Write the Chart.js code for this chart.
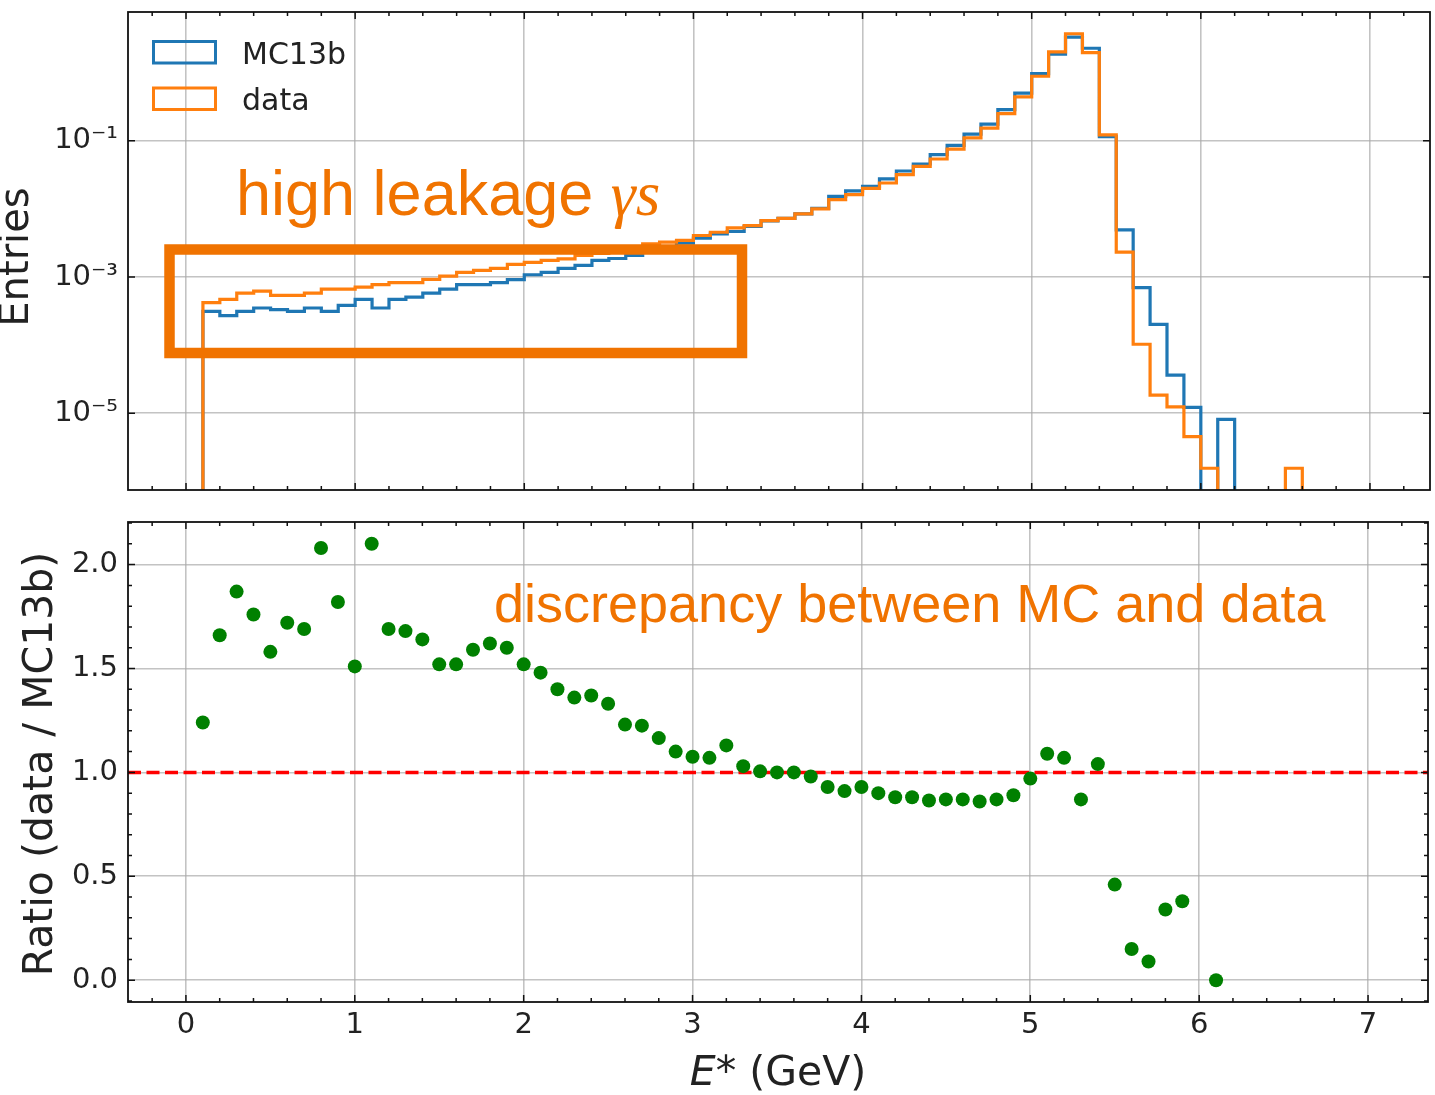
<!DOCTYPE html>
<html>
<head>
<meta charset="utf-8">
<title>E* spectrum MC13b vs data</title>
<script src="https://cdn.jsdelivr.net/npm/chart.js@4.4.1/dist/chart.umd.min.js"></script>
<style>
  html, body { margin: 0; padding: 0; background: #fff; }
  #wrap { position: relative; width: 1435px; height: 1095px; overflow: hidden; }
  #topChart { position: absolute; left: 0; top: 0; }
  #ratioChart { position: absolute; left: 0; top: 505px; }
</style>
</head>
<body>
<div id="wrap">
  <canvas id="topChart" width="1435" height="505"></canvas>
  <canvas id="ratioChart" width="1435" height="590"></canvas>
</div>
<script>
// histogram bin edges (GeV)
const binEdges = [0.1,0.2,0.3,0.4,0.5,0.6,0.7,0.8,0.9,1.0,1.1,1.2,1.3,1.4,1.5,1.6,1.7,1.8,1.9,2.0,
  2.1,2.2,2.3,2.4,2.5,2.6,2.7,2.8,2.9,3.0,3.1,3.2,3.3,3.4,3.5,3.6,3.7,3.8,3.9,4.0,
  4.1,4.2,4.3,4.4,4.5,4.6,4.7,4.8,4.9,5.0,5.1,5.2,5.3,5.4,5.5,5.6,5.7,5.8,5.9,6.0,
  6.1,6.2,6.3,6.4,6.5,6.6];

// MC13b entries per bin
const mcEntries = [
  3.13e-4, 2.71e-4, 3.13e-4, 3.51e-4, 3.32e-4, 3.13e-4, 3.51e-4, 3.13e-4, 3.84e-4, 4.70e-4,
  3.51e-4, 4.70e-4, 5.08e-4, 5.81e-4, 6.65e-4, 7.71e-4, 7.71e-4, 8.26e-4, 9.13e-4, 1.08e-3,
  1.17e-3, 1.34e-3, 1.48e-3, 1.75e-3, 1.87e-3, 2.07e-3, 2.45e-3, 2.80e-3, 3.15e-3, 3.73e-3,
  4.28e-3, 4.66e-3, 5.52e-3, 6.67e-3, 7.28e-3, 8.45e-3, 1.02e-2, 1.53e-2, 1.84e-2, 2.14e-2,
  2.75e-2, 3.60e-2, 4.56e-2, 6.24e-2, 8.53e-2, 0.125, 0.176, 0.287, 0.499, 0.966,
  1.86, 3.33, 2.28, 0.115, 4.93e-3, 6.97e-4, 2.02e-4, 3.62e-5, 1.22e-5, 0,
  8.15e-6, 0, 0, 0, 0
];

// data entries per bin
const dataEntries = [
  4.21e-4, 4.70e-4, 5.81e-4, 6.22e-4, 5.38e-4, 5.38e-4, 5.81e-4, 6.65e-4, 6.65e-4, 7.11e-4,
  7.71e-4, 8.26e-4, 8.26e-4, 9.23e-4, 1.03e-3, 1.17e-3, 1.25e-3, 1.34e-3, 1.53e-3, 1.64e-3,
  1.75e-3, 1.85e-3, 2.07e-3, 2.22e-3, 2.37e-3, 2.62e-3, 3.08e-3, 3.25e-3, 3.44e-3, 4.07e-3,
  4.54e-3, 5.27e-3, 5.69e-3, 6.74e-3, 7.28e-3, 8.45e-3, 1.00e-2, 1.37e-2, 1.62e-2, 2.00e-2,
  2.40e-2, 3.18e-2, 4.21e-2, 5.40e-2, 7.55e-2, 0.110, 0.153, 0.251, 0.441, 0.885,
  2.01, 3.72, 1.96, 0.122, 2.32e-3, 1.03e-4, 1.85e-5, 1.24e-5, 4.53e-6, 1.56e-6,
  0, 0, 0, 0, 1.56e-6
];

// ratio data / MC13b
const ratioX = [0.1,0.2,0.3,0.4,0.5,0.6,0.7,0.8,0.9,1.0,1.1,1.2,1.3,1.4,1.5,1.6,1.7,1.8,1.9,2.0,
  2.1,2.2,2.3,2.4,2.5,2.6,2.7,2.8,2.9,3.0,3.1,3.2,3.3,3.4,3.5,3.6,3.7,3.8,3.9,4.0,
  4.1,4.2,4.3,4.4,4.5,4.6,4.7,4.8,4.9,5.0,5.1,5.2,5.3,5.4,5.5,5.6,5.7,5.8,5.9,6.1];
const ratioValues = [1.24,1.66,1.87,1.76,1.58,1.72,1.69,2.08,1.82,1.51,
  2.10,1.69,1.68,1.64,1.52,1.52,1.59,1.62,1.60,1.52,
  1.48,1.40,1.36,1.37,1.33,1.23,1.225,1.165,1.10,1.075,
  1.07,1.13,1.03,1.005,1.0,1.0,0.98,0.93,0.91,0.93,
  0.90,0.88,0.88,0.865,0.87,0.87,0.86,0.87,0.89,0.97,
  1.09,1.07,0.87,1.04,0.46,0.15,0.09,0.34,0.38,0.0];
const refLevel = 1.0;

const xTicks = [0,1,2,3,4,5,6,7];
const topYTicks = [1e-5, 1e-3, 1e-1];
const topYTickLabels = ['10⁻⁵', '10⁻³', '10⁻¹'];
const ratioYTicks = [0, 0.5, 1.0, 1.5, 2.0];
const ratioYTickLabels = ['0.0', '0.5', '1.0', '1.5', '2.0'];

// axis limits
const X_MIN = -0.343, X_MAX = 7.355;
const TOP_Y_MIN = 7.48e-7, TOP_Y_MAX = 7.76;
const RATIO_Y_MIN = -0.105, RATIO_Y_MAX = 2.205;
const FLOOR = 1e-9; // empty bins go below the axis

const BLUE = '#1f77b4', ORANGE = '#ff7f0e', NOTE = '#f07300', TEXT = '#222';
const FONT = '"DejaVu Sans", sans-serif';

// step outline like matplotlib histtype='step'
function stepPoints(values) {
  const pts = [{ x: binEdges[0], y: FLOOR }];
  values.forEach(function (v, i) {
    pts.push({ x: binEdges[i], y: v > 0 ? v : FLOOR });
  });
  pts.push({ x: binEdges[binEdges.length - 1], y: FLOOR });
  return pts;
}

function minorTicks(from, to, step, every) {
  let out = [];
  for (let k = Math.round(from / step); k * step <= to + 1e-9; k++) {
    if (k % every !== 0) out.push(k * step);
  }
  return out;
}

// frame + inward ticks on all four sides
const frameTicks = {
  id: 'frameTicks',
  afterDatasetsDraw(chart, args, opts) {
    const ctx = chart.ctx, a = chart.chartArea;
    const x = chart.scales.x, y = chart.scales.y;
    ctx.save();
    ctx.strokeStyle = '#111';
    ctx.lineWidth = 1.5;
    ctx.beginPath();
    function xt(vals, len) {
      vals.forEach(function (v) {
        const p = x.getPixelForValue(v);
        if (p < a.left || p > a.right) return;
        ctx.moveTo(p, a.bottom); ctx.lineTo(p, a.bottom - len);
        ctx.moveTo(p, a.top); ctx.lineTo(p, a.top + len);
      });
    }
    function yt(vals, len) {
      vals.forEach(function (v) {
        const p = y.getPixelForValue(v);
        if (p < a.top || p > a.bottom) return;
        ctx.moveTo(a.left, p); ctx.lineTo(a.left + len, p);
        ctx.moveTo(a.right, p); ctx.lineTo(a.right - len, p);
      });
    }
    xt(opts.xMajor, 7); xt(opts.xMinor, 4);
    yt(opts.yMajor, 7); yt(opts.yMinor || [], 4);
    ctx.stroke();
    ctx.lineWidth = 1.8;
    ctx.strokeRect(a.left, a.top, a.right - a.left, a.bottom - a.top);
    ctx.restore();
  }
};

const xMinor = minorTicks(X_MIN, X_MAX, 0.2, 5);
const ratioYMinor = minorTicks(RATIO_Y_MIN, RATIO_Y_MAX, 0.1, 5);

const gridStyle = { color: 'rgba(170,170,170,0.7)', lineWidth: 1.6, drawTicks: false };

function fixY(scale) {
  scale.width = 128;
  scale.paddingTop = 0;
  scale.paddingBottom = 0;
}

// ---------- top panel ----------
const topNotes = {
  id: 'topNotes',
  afterDraw(chart) {
    const ctx = chart.ctx;
    ctx.save();
    // legend
    const items = [chart.data.datasets[1], chart.data.datasets[0]];
    ctx.lineWidth = 3;
    ctx.font = '30px ' + FONT;
    ctx.fillStyle = TEXT;
    ctx.textBaseline = 'alphabetic';
    items.forEach(function (ds, i) {
      const top = 41.5 + i * 46.5;
      ctx.strokeStyle = ds.borderColor;
      ctx.strokeRect(153.5, top, 62, 21.5);
      ctx.fillText(ds.label, 242, 63.5 + i * 46.5);
    });
    // annotation box and text
    ctx.strokeStyle = NOTE;
    ctx.lineWidth = 10.5;
    ctx.strokeRect(169.5, 249.5, 572.5, 103.5);
    ctx.fillStyle = NOTE;
    ctx.font = '63px "Liberation Sans", Arial, sans-serif';
    const t1 = 'high leakage ';
    ctx.fillText(t1, 236, 215);
    const w = ctx.measureText(t1).width;
    ctx.font = 'italic 63px "Liberation Serif", "Times New Roman", serif';
    ctx.fillText('γs', 236 + w, 215);
    // y title
    ctx.fillStyle = TEXT;
    ctx.font = '40px ' + FONT;
    ctx.translate(18, 257);
    ctx.rotate(-Math.PI / 2);
    ctx.textAlign = 'center';
    ctx.textBaseline = 'middle';
    ctx.fillText('Entries', 0, 0);
    ctx.restore();
  }
};

new Chart(document.getElementById('topChart'), {
  type: 'line',
  data: {
    datasets: [
      {
        label: 'data',
        data: stepPoints(dataEntries),
        borderColor: ORANGE,
        backgroundColor: 'rgba(0,0,0,0)',
        borderWidth: 3.2,
        stepped: true,
        pointRadius: 0,
        fill: false,
        clip: 0
      },
      {
        label: 'MC13b',
        data: stepPoints(mcEntries),
        borderColor: BLUE,
        backgroundColor: 'rgba(0,0,0,0)',
        borderWidth: 3.2,
        stepped: true,
        pointRadius: 0,
        fill: false,
        clip: 0
      }
    ]
  },
  options: {
    responsive: false,
    animation: false,
    events: [],
    layout: { padding: { left: 0, right: 5, top: 12, bottom: 15 } },
    plugins: {
      legend: { display: false },
      tooltip: { enabled: false },
      frameTicks: { xMajor: xTicks, xMinor: xMinor, yMajor: topYTicks, yMinor: [] }
    },
    scales: {
      x: {
        type: 'linear',
        min: X_MIN,
        max: X_MAX,
        grid: gridStyle,
        border: { display: false },
        ticks: { display: false },
        afterBuildTicks: function (scale) { scale.ticks = xTicks.map(v => ({ value: v })); },
        afterFit: function (scale) { scale.height = 0; scale.paddingLeft = 0; scale.paddingRight = 0; }
      },
      y: {
        type: 'logarithmic',
        min: TOP_Y_MIN,
        max: TOP_Y_MAX,
        grid: gridStyle,
        border: { display: false },
        ticks: {
          font: { family: FONT, size: 29 },
          color: TEXT,
          padding: 10,
          callback: function (value, index) { return topYTickLabels[index]; }
        },
        afterBuildTicks: function (scale) { scale.ticks = topYTicks.map(v => ({ value: v })); },
        afterFit: fixY
      }
    }
  },
  plugins: [frameTicks, topNotes]
});

// ---------- ratio panel ----------
const ratioNotes = {
  id: 'ratioNotes',
  afterDraw(chart) {
    const ctx = chart.ctx;
    ctx.save();
    ctx.fillStyle = NOTE;
    ctx.font = '54px "Liberation Sans", Arial, sans-serif';
    ctx.fillText('discrepancy between MC and data', 494, 117);
    // x title: italic E
    ctx.fillStyle = TEXT;
    const a = chart.chartArea;
    const cx = (a.left + a.right) / 2;
    ctx.font = 'italic 41px ' + FONT;
    const wE = ctx.measureText('E').width;
    ctx.font = '41px ' + FONT;
    const rest = '* (GeV)';
    const wR = ctx.measureText(rest).width;
    const x0 = cx - (wE + wR) / 2;
    ctx.font = 'italic 41px ' + FONT;
    ctx.fillText('E', x0, 580);
    ctx.font = '41px ' + FONT;
    ctx.fillText(rest, x0 + wE, 580);
    // y title
    ctx.translate(41, (a.top + a.bottom) / 2 + 2);
    ctx.rotate(-Math.PI / 2);
    ctx.textAlign = 'center';
    ctx.textBaseline = 'middle';
    ctx.fillText('Ratio (data / MC13b)', 0, 0);
    ctx.restore();
  }
};

new Chart(document.getElementById('ratioChart'), {
  type: 'scatter',
  data: {
    datasets: [
      {
        label: 'ratio',
        data: ratioX.map((x, i) => ({ x: x, y: ratioValues[i] })),
        backgroundColor: 'green',
        borderColor: 'green',
        borderWidth: 0,
        pointRadius: 7
      },
      {
        label: 'unity',
        data: [{ x: X_MIN, y: refLevel }, { x: X_MAX, y: refLevel }],
        showLine: true,
        borderColor: 'red',
        borderWidth: 3.5,
        borderDash: [13, 5.5],
        pointRadius: 0,
        fill: false
      }
    ]
  },
  options: {
    responsive: false,
    animation: false,
    events: [],
    layout: { padding: { left: 0, right: 5, top: 17, bottom: 0 } },
    plugins: {
      legend: { display: false },
      tooltip: { enabled: false },
      frameTicks: { xMajor: xTicks, xMinor: xMinor, yMajor: ratioYTicks, yMinor: ratioYMinor }
    },
    scales: {
      x: {
        type: 'linear',
        min: X_MIN,
        max: X_MAX,
        grid: gridStyle,
        border: { display: false },
        ticks: {
          font: { family: FONT, size: 29 },
          color: TEXT,
          padding: 6,
          callback: function (value) { return String(value); }
        },
        afterBuildTicks: function (scale) { scale.ticks = xTicks.map(v => ({ value: v })); },
        afterFit: function (scale) { scale.height = 93; scale.paddingLeft = 0; scale.paddingRight = 0; }
      },
      y: {
        type: 'linear',
        min: RATIO_Y_MIN,
        max: RATIO_Y_MAX,
        grid: gridStyle,
        border: { display: false },
        ticks: {
          font: { family: FONT, size: 29 },
          color: TEXT,
          padding: 10,
          callback: function (value, index) { return ratioYTickLabels[index]; }
        },
        afterBuildTicks: function (scale) { scale.ticks = ratioYTicks.map(v => ({ value: v })); },
        afterFit: fixY
      }
    }
  },
  plugins: [frameTicks, ratioNotes]
});
</script>
</body>
</html>
